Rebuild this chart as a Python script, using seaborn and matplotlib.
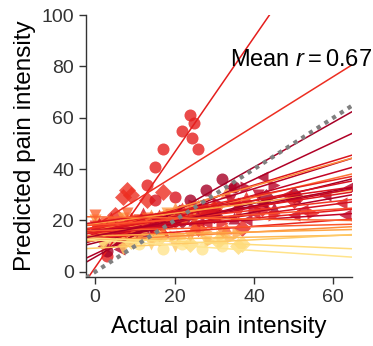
import matplotlib
matplotlib.use("Agg")
import matplotlib.pyplot as plt
import seaborn as sns
import numpy as np
import pandas as pd

# ---- data: one entry per participant ----
subj_x = [
    [3, 6, 10, 13, 15, 17, 22, 24, 25, 24.5, 26],
    [1, 3, 5, 7, 8, 9, 13, 17],
    [3, 8, 12, 18, 24, 28, 32, 35],
    [2, 6, 10, 15, 20, 27, 34, 42],
    [5, 10, 15, 18, 20, 27],
    [2, 7, 12, 18, 25, 31, 38, 45],
    [1, 4, 9, 14, 20, 26, 33],
    [3, 8, 14, 19, 26, 34, 41],
    [2, 6, 11, 17, 24, 30],
    [0, 4, 9, 15, 22, 30, 38],
    [5, 10, 16, 22, 30, 43, 50],
    [3, 9, 15, 24, 35, 48],
    [0, 3, 7, 12, 18, 25],
    [2, 8, 15, 22, 30, 40],
    [1, 6, 12, 20, 30, 42, 50],
    [4, 10, 17, 25, 35, 45],
    [0, 5, 11, 18, 27, 36],
    [5, 15, 28, 40, 52, 62],
    [2, 6, 10, 16, 22],
    [3, 10, 20, 32, 45, 55],
    [4, 14, 26, 38, 50, 63],
    [2, 8, 16, 26, 37],
    [1, 5, 10, 17, 25, 33],
    [3, 9, 16, 24, 32],
    [4, 12, 20, 28, 36],
    [8, 15, 22, 29, 32, 34],
    [2, 7, 14, 20, 28],
    [4, 11, 17, 22, 27, 32],
    [2, 9, 16, 24, 31, 36, 37],
    [1, 4, 8, 12, 16, 21, 28, 36],
    [10, 20, 30, 42, 50, 58, 64],
    [0, 4, 8, 13, 19, 25],
]
subj_y = [
    [6, 12, 19, 34, 41, 48, 55, 61, 58, 52, 48],
    [15, 18, 22, 29, 32, 30, 28, 31],
    [8, 14, 15, 20, 28, 32, 36, 33],
    [10, 9, 16, 15, 24, 25, 33, 37],
    [15, 18, 28, 20, 29, 24],
    [15, 15, 20, 21, 26, 27, 33, 34],
    [17, 16, 21, 22, 25, 26, 31],
    [14, 16, 17, 22, 23, 28, 30],
    [16, 15, 19, 20, 24, 25],
    [18, 17, 21, 21, 25, 26, 29],
    [14, 14, 18, 20, 22, 29, 30],
    [17, 17, 21, 22, 27, 30],
    [20, 18, 21, 20, 23, 24],
    [14, 16, 17, 21, 22, 25],
    [17, 16, 20, 20, 24, 25, 28],
    [13, 16, 16, 20, 21, 25],
    [18, 17, 20, 19, 23, 23],
    [15, 18, 19, 23, 24, 27],
    [19, 18, 20, 19, 21],
    [16, 16, 19, 19, 22, 23],
    [17, 17, 19, 20, 22, 22],
    [14, 13, 15, 17, 17],
    [17, 15, 17, 16, 18, 17],
    [13, 12, 14, 14, 15],
    [14, 15, 14, 16, 15],
    [12, 13, 14, 12, 14, 13],
    [10, 9, 11, 10, 12],
    [13, 11, 9, 11, 9, 10],
    [13, 12, 13, 11, 12, 10, 11],
    [19, 21, 20, 23, 22, 24, 25, 27],
    [17, 20, 22, 27, 29, 30, 33],
    [22, 19, 23, 21, 22, 20],
]
subj_marker = ['o', 'D', 'o', '<', 'o', '>', '^', 'v', 'D', '^', 'D', '<', 'v', '>',
               'D', '^', 'v', '<', 'o', '>', '<', 'D', '^', 'v', '>', '>', 'v', 'o', 'D',
               '^', '<', 'v']
subj_shade = [0.74, 0.70, 0.92, 0.90, 0.78, 0.88, 0.50, 0.86, 0.55, 0.72, 0.93, 0.80,
              0.45, 0.84, 0.76, 0.90, 0.68, 0.80, 0.62, 0.74, 0.86, 0.72, 0.60, 0.50,
              0.42, 0.35, 0.30, 0.18, 0.24, 0.78, 0.90, 0.58]

mean_r = 0.67
xlim = (-2.3, 64.7)
ylim = (-2, 100)
xticks = [0, 20, 40, 60]
yticks = [0, 20, 40, 60, 80, 100]

# ---- style ----
sns.set_style("ticks")
plt.rcParams['font.family'] = ['Liberation Sans', 'DejaVu Sans']
plt.rcParams['mathtext.fontset'] = 'custom'
plt.rcParams['mathtext.rm'] = 'Liberation Sans'
plt.rcParams['mathtext.it'] = 'Liberation Sans:italic'

fig = plt.figure(figsize=(3.73, 3.46), dpi=100)
ax = fig.add_axes([0.2306, 0.1994, 0.7131, 0.7572])
ax.set_xlim(*xlim)
ax.set_ylim(*ylim)

cmap = plt.get_cmap("YlOrRd")
for xs, ys, mk, sh in zip(subj_x, subj_y, subj_marker, subj_shade):
    col = cmap(sh)
    df = pd.DataFrame({"x": xs, "y": ys})
    sns.regplot(data=df, x="x", y="y", ax=ax, ci=None, truncate=False,
                marker=mk, color=col,
                scatter_kws=dict(s=75, alpha=0.8, linewidths=0),
                line_kws=dict(lw=1.1))

ax.plot([xlim[0], 65], [xlim[0], 65], ls=(0, (1, 1.2)), color='#808080', lw=3, zorder=10)

ax.set_xlim(*xlim)
ax.set_ylim(*ylim)
ax.set_xticks(xticks)
ax.set_yticks(yticks)
ax.tick_params(labelsize=14, colors='#333333', length=5, width=1, labelcolor='#333333')
for s in ['left', 'bottom']:
    ax.spines[s].set_color('#333333')
    ax.spines[s].set_linewidth(1)
sns.despine(ax=ax)

ax.set_xlabel("Actual pain intensity", fontsize=17.5, color='black', labelpad=7)
ax.set_ylabel("Predicted pain intensity", fontsize=17.5, color='black', labelpad=4)

ax.text(34, 82.5, "Mean $r = %.2f$" % mean_r, fontsize=17, va='center', ha='left',
        color='black', clip_on=False, zorder=20)

fig.savefig("out.png", dpi=100)
